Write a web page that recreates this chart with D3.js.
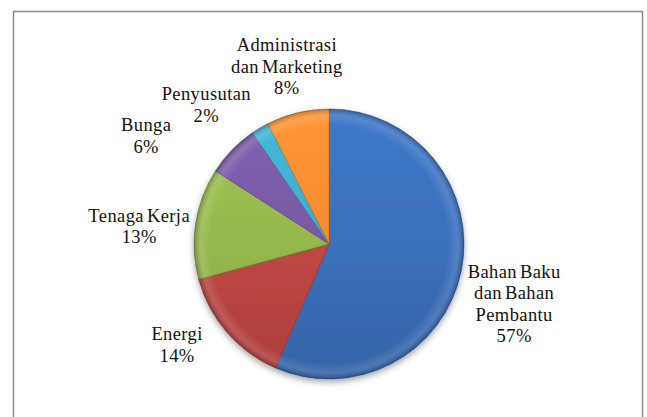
<!DOCTYPE html>
<html>
<head>
<meta charset="utf-8">
<script src="https://cdn.jsdelivr.net/npm/d3@7"></script>
<style>
  html, body { margin: 0; padding: 0; background: #fff; }
</style>
</head>
<body>
<svg id="chart" width="647" height="417"></svg>
<script>
// Chart data
const categories = [
  ["Bahan Baku", "dan Bahan", "Pembantu"],
  ["Energi"],
  ["Tenaga Kerja"],
  ["Bunga"],
  ["Penyusutan"],
  ["Administrasi", "dan Marketing"]
];
const values = [56.5, 14.3, 13.3, 6.3, 2.1, 7.5];
const percentLabels = ["57%", "14%", "13%", "6%", "2%", "8%"];
const colors = ["#3a6fba", "#be4643", "#94b64c", "#7659a1", "#3eaacb", "#f38a30"];

// label nudges away from the default centroid (Excel "best fit")
const labelNudge = [[4, -4], [-12, -25], [-7, 6], [-50, 16], [-28, 15], [1, -13]];

const svg = d3.select("#chart");

// Chart frame
svg.append("rect")
  .attr("x", 13.5).attr("y", 11.5)
  .attr("width", 629).attr("height", 420)
  .attr("fill", "none")
  .attr("stroke", "#8c8c8c")
  .attr("stroke-width", 1.5);

const cx = 329, cy = 244, r = 135;
const defs = svg.append("defs");

// soft shadow under the pie
const shadow = defs.append("filter").attr("id", "shadow")
  .attr("x", "-20%").attr("y", "-20%").attr("width", "140%").attr("height", "140%");
shadow.append("feDropShadow")
  .attr("dx", 0).attr("dy", 3).attr("stdDeviation", 3)
  .attr("flood-color", "#000").attr("flood-opacity", 0.35);

// per-colour vertical gradients (light top, darker bottom)
colors.forEach((c, i) => {
  const g = defs.append("linearGradient")
    .attr("id", "grad" + i)
    .attr("gradientUnits", "userSpaceOnUse")
    .attr("x1", 0).attr("y1", -r).attr("x2", 0).attr("y2", r);
  g.append("stop").attr("offset", "0%").attr("stop-color", d3.color(c).brighter(0.25));
  g.append("stop").attr("offset", "55%").attr("stop-color", c);
  g.append("stop").attr("offset", "100%").attr("stop-color", d3.color(c).darker(0.3));
});

// rim bevel overlay
const rim = defs.append("radialGradient")
  .attr("id", "rim")
  .attr("gradientUnits", "userSpaceOnUse")
  .attr("cx", 0).attr("cy", 0).attr("r", r);
rim.append("stop").attr("offset", "0%").attr("stop-color", "#fff").attr("stop-opacity", 0);
rim.append("stop").attr("offset", "88%").attr("stop-color", "#fff").attr("stop-opacity", 0);
rim.append("stop").attr("offset", "95%").attr("stop-color", "#fff").attr("stop-opacity", 0.12);
rim.append("stop").attr("offset", "100%").attr("stop-color", "#000").attr("stop-opacity", 0.25);

const pie = d3.pie().sort(null).value(d => d)(values);
const arc = d3.arc().innerRadius(0).outerRadius(r);
const labelArc = d3.arc().innerRadius(r + 50).outerRadius(r + 50);

const g = svg.append("g").attr("transform", `translate(${cx},${cy})`);

const slices = g.append("g").attr("filter", "url(#shadow)");
slices.selectAll("path.slice")
  .data(pie)
  .enter()
  .append("path")
  .attr("class", "slice")
  .attr("d", arc)
  .attr("fill", (d, i) => `url(#grad${i})`)
  .attr("stroke", (d, i) => d3.color(colors[i]).darker(0.8))
  .attr("stroke-width", 0.6);

g.selectAll("path.rim")
  .data(pie)
  .enter()
  .append("path")
  .attr("class", "rim")
  .attr("d", arc)
  .attr("fill", "url(#rim)");

// Labels
const lineH = 21.5;
const labels = g.selectAll("text.lbl")
  .data(pie)
  .enter()
  .append("text")
  .attr("class", "lbl")
  .attr("text-anchor", "middle")
  .attr("font-family", "'Liberation Serif', serif")
  .attr("font-size", "18.5px")
  .attr("letter-spacing", "0.4px")
  .attr("word-spacing", "-2px")
  .attr("fill", "#111")
  .attr("transform", (d, i) => {
    const [x, y] = labelArc.centroid(d);
    return `translate(${x + labelNudge[i][0]},${y + labelNudge[i][1]})`;
  });

labels.each(function(d, i) {
  const lines = categories[i].concat([percentLabels[i]]);
  const t = d3.select(this);
  lines.forEach((ln, k) => {
    t.append("tspan").attr("x", 0).attr("y", k * lineH).text(ln);
  });
});
</script>
</body>
</html>
